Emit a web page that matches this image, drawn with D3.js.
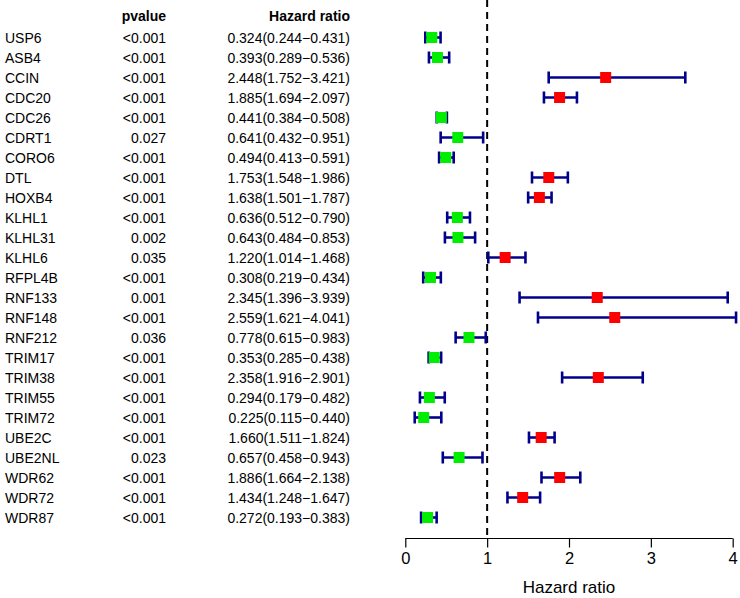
<!DOCTYPE html>
<html><head><meta charset="utf-8">
<script src="https://cdn.jsdelivr.net/npm/d3@7"></script>
<style>body{margin:0;background:#fff}svg{display:block}text{font-family:"Liberation Sans",Arial,sans-serif;fill:#000}</style>
</head><body>
<script>
const genes = ["USP6","ASB4","CCIN","CDC20","CDC26","CDRT1","CORO6","DTL","HOXB4","KLHL1","KLHL31","KLHL6","RFPL4B","RNF133","RNF148","RNF212","TRIM17","TRIM38","TRIM55","TRIM72","UBE2C","UBE2NL","WDR62","WDR72","WDR87"];
const pvalues = ["<0.001","<0.001","<0.001","<0.001","<0.001","0.027","<0.001","<0.001","<0.001","<0.001","0.002","0.035","<0.001","0.001","<0.001","0.036","<0.001","<0.001","<0.001","<0.001","<0.001","0.023","<0.001","<0.001","<0.001"];
const hr = [0.324,0.393,2.448,1.885,0.441,0.641,0.494,1.753,1.638,0.636,0.643,1.220,0.308,2.345,2.559,0.778,0.353,2.358,0.294,0.225,1.660,0.657,1.886,1.434,0.272];
const lower = [0.244,0.289,1.752,1.694,0.384,0.432,0.413,1.548,1.501,0.512,0.484,1.014,0.219,1.396,1.621,0.615,0.285,1.916,0.179,0.115,1.511,0.458,1.664,1.248,0.193];
const upper = [0.431,0.536,3.421,2.097,0.508,0.951,0.591,1.986,1.787,0.790,0.853,1.468,0.434,3.939,4.041,0.983,0.438,2.901,0.482,0.440,1.824,0.943,2.138,1.647,0.383];
const xTicks = [0,1,2,3,4];

const W = 740, H = 598;
const svg = d3.select("body").append("svg").attr("width", W).attr("height", H);
const x = d3.scaleLinear().domain([0,4]).range([405.3,732.7]);
const y = d3.scalePoint().domain(genes).range([37.5,517.5]);
const fs = 14;

// header
svg.append("text").attr("x",166).attr("y",21).attr("text-anchor","end").attr("font-weight","bold").attr("font-size",fs).text("pvalue");
svg.append("text").attr("x",350).attr("y",21).attr("text-anchor","end").attr("font-weight","bold").attr("font-size",fs).text("Hazard ratio");

const rows = svg.append("g").selectAll("g").data(genes).join("g");
rows.append("text").attr("x",5).attr("y",d=>y(d)+5).attr("font-size",fs).text(d=>d);
rows.append("text").attr("x",166).attr("y",d=>y(d)+5).attr("text-anchor","end").attr("font-size",fs).text((d,i)=>pvalues[i]);
rows.append("text").attr("x",350).attr("y",d=>y(d)+5).attr("text-anchor","end").attr("font-size",fs)
  .text((d,i)=>hr[i].toFixed(3)+"("+lower[i].toFixed(3)+"\u2212"+upper[i].toFixed(3)+")");

// reference line
svg.append("line").attr("x1",x(1)).attr("x2",x(1)).attr("y1",0).attr("y2",539)
  .attr("stroke","#000").attr("stroke-width",2).attr("stroke-dasharray","7,5");

// CI
const ci = svg.append("g").attr("stroke","#00008B").attr("stroke-width",2.6);
genes.forEach((g,i)=>{
  const yy = y(g);
  ci.append("line").attr("x1",x(lower[i])).attr("x2",x(upper[i])).attr("y1",yy).attr("y2",yy);
  ci.append("line").attr("x1",x(lower[i])).attr("x2",x(lower[i])).attr("y1",yy-6).attr("y2",yy+6);
  ci.append("line").attr("x1",x(upper[i])).attr("x2",x(upper[i])).attr("y1",yy-6).attr("y2",yy+6);
});
const s = 11;
svg.append("g").selectAll("rect").data(genes).join("rect")
  .attr("x",(d,i)=>x(hr[i])-s/2).attr("y",d=>y(d)-s/2).attr("width",s).attr("height",s)
  .attr("fill",(d,i)=>hr[i]>1?"#FF0000":"#00EE00");

// axis
const ax = svg.append("g").attr("transform","translate(0,538.5)")
  .call(d3.axisBottom(x).tickValues(xTicks).tickSize(9).tickPadding(5).tickFormat(d3.format("d")));
ax.select(".domain").attr("d",`M${x(0)},0H${x(4)}`).attr("stroke","#000").attr("stroke-width",1.2);
ax.selectAll(".tick line").attr("stroke","#000").attr("stroke-width",1.2);
ax.selectAll(".tick text").attr("font-size",16.5).attr("font-family","Liberation Sans, Arial, sans-serif").attr("fill","#000");
svg.append("text").attr("x",(x(0)+x(4))/2).attr("y",593).attr("text-anchor","middle").attr("font-size",17).text("Hazard ratio");
</script>
</body></html>
